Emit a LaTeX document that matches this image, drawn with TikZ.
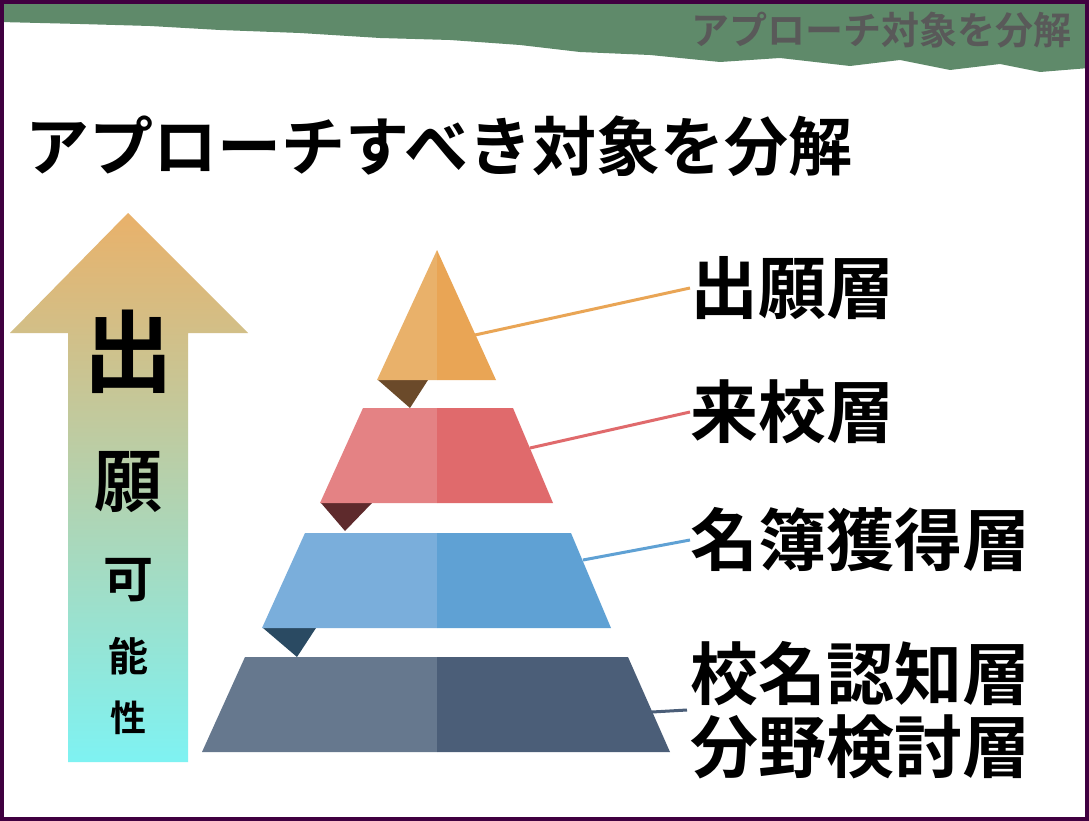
\documentclass[tikz,border=0pt]{standalone}
\usepackage{fontspec}
\setmainfont{Noto Sans CJK JP}[BoldFont={Noto Sans CJK JP Bold}]
\begin{document}
\begin{tikzpicture}[x=1pt,y=-1pt,
  lbl/.style={anchor=west,font=\bfseries\fontsize{68}{70}\selectfont,inner sep=0},
  conn/.style={line width=3pt}]
\definecolor{bannergreen}{HTML}{5F8A6A}
\definecolor{cOrL}{HTML}{E9B16A}\definecolor{cOrR}{HTML}{E9A555}\definecolor{cOrD}{HTML}{6B4A2A}
\definecolor{cRdL}{HTML}{E48284}\definecolor{cRdR}{HTML}{E06A6C}\definecolor{cRdD}{HTML}{5E2A2C}
\definecolor{cBlL}{HTML}{7AAEDB}\definecolor{cBlR}{HTML}{5FA1D4}\definecolor{cBlD}{HTML}{2A4A62}
\definecolor{cSlL}{HTML}{66788E}\definecolor{cSlR}{HTML}{4B5E78}
\useasboundingbox (0,0) rectangle (1089,821);
\fill[white] (0,0) rectangle (1089,821);
% banner
\fill[bannergreen] (0,0) -- (1089,0) -- (1089,68) -- (1040,72) -- (1000,64) -- (950,70) -- (900,60) -- (850,66) -- (780,58) -- (720,62) -- (650,55) -- (580,52) -- (520,45) -- (450,40) -- (380,38) -- (300,33) -- (220,30) -- (150,26) -- (80,24) -- (0,22) -- cycle;
\node[anchor=east,text=black!65,font=\bfseries\fontsize{38}{40}\selectfont,inner sep=0] (banner) at (1072,30) {アプローチ対象を分解};
\node[anchor=west,font=\bfseries\fontsize{64}{66}\selectfont,inner sep=0] (title) at (25,146) {アプローチすべき対象を分解};
% arrow
\shade[top color=cOrL,bottom color=cyan!45!white!90!teal] (128,213) -- (248,333) -- (188,333) -- (188,762) -- (68,762) -- (68,333) -- (10,333) -- cycle;
\node[font=\bfseries\fontsize{90}{90}\selectfont,inner sep=0] (v1) at (128,352) {出};
\node[font=\bfseries\fontsize{68}{68}\selectfont,inner sep=0] (v2) at (128,482) {願};
\node[font=\bfseries\fontsize{50}{50}\selectfont,inner sep=0] (v3) at (128,580) {可};
\node[font=\bfseries\fontsize{40}{40}\selectfont,inner sep=0] (v4) at (128,656) {能};
\node[font=\bfseries\fontsize{36}{36}\selectfont,inner sep=0] (v5) at (128,718) {性};
% pyramid
\fill[cOrD] (378,380) -- (428,380) -- (410,408) -- cycle;
\fill[cOrL] (437,250) -- (437,380) -- (377,380) -- cycle;
\fill[cOrR] (437,250) -- (437,380) -- (496,380) -- cycle;
\fill[cRdD] (321,503) -- (372,503) -- (345,531) -- cycle;
\fill[cRdL] (363,408) -- (437,408) -- (437,503) -- (320,503) -- cycle;
\fill[cRdR] (437,408) -- (513,408) -- (553,503) -- (437,503) -- cycle;
\fill[cBlD] (263,628) -- (316,628) -- (297,657) -- cycle;
\fill[cBlL] (305,533) -- (437,533) -- (437,628) -- (262,628) -- cycle;
\fill[cBlR] (437,533) -- (571,533) -- (611,628) -- (437,628) -- cycle;
\fill[cSlL] (245,657) -- (437,657) -- (437,752) -- (202,752) -- cycle;
\fill[cSlR] (437,657) -- (628,657) -- (670,752) -- (437,752) -- cycle;
\coordinate (p1) at (475,335);
\coordinate (p2) at (530,448);
\coordinate (p3) at (583,560);
\coordinate (p4) at (652,712);
% labels
\node[lbl] (l1) at (690,288) {出願層};
\node[lbl] (l2) at (690,412) {来校層};
\node[lbl] (l3) at (690,540) {名簿獲得層};
\node[lbl] (l4) at (690,674) {校名認知層};
\node[lbl] (l5) at (690,747) {分野検討層};
\draw[conn,cOrR] (p1) -- (l1.west);
\draw[conn,cRdR] (p2) -- (l2.west);
\draw[conn,cBlR] (p3) -- (l3.west);
\draw[conn,cSlR] (p4) -- (687,710);
% frame
\draw[line width=4pt,color=violet!50!black] (2,2) rectangle (1087,819);
\end{tikzpicture}
\end{document}
